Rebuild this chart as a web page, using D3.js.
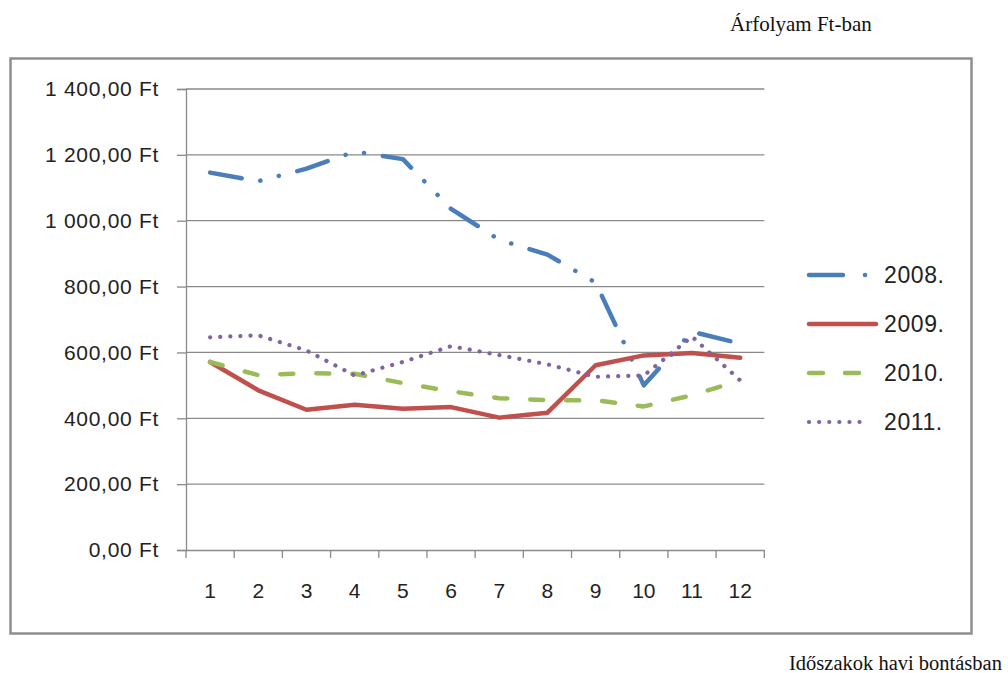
<!DOCTYPE html>
<html>
<head>
<meta charset="utf-8">
<script src="https://cdn.jsdelivr.net/npm/d3@7"></script>
<style>
    body { margin: 0; background: #fff; }
    svg { display: block; }
</style>
</head>
<body>
<div id="chart"></div>
<script>
// adatok
const months = [1, 2, 3, 4, 5, 6, 7, 8, 9, 10, 11, 12];
const y2008 = [1146, 1120, 1158, 1210, 1187, 1036, 942, 897, 812, 500, 663, 627];
const y2009 = [571, 485, 426, 441, 429, 434, 402, 417, 561, 591, 598, 584];
const y2010 = [571, 531, 537, 535, 507, 482, 461, 455, 455, 436, 470, 515];
const y2011 = [646, 652, 606, 530, 571, 619, 592, 564, 526, 530, 648, 515];
const seriesNames = ['2008.', '2009.', '2010.', '2011.'];
const yTicks = [0, 200, 400, 600, 800, 1000, 1200, 1400];

const W = 1008, H = 673;
const svg = d3.select('#chart').append('svg')
    .attr('width', W)
    .attr('height', H);

// külső keret
svg.append('rect')
    .attr('x', 10.5).attr('y', 58.5)
    .attr('width', 961).attr('height', 575)
    .attr('fill', '#fff')
    .attr('stroke', '#8e8e8e')
    .attr('stroke-width', 2.5);

const x = d3.scaleBand().domain(months).range([186, 764.3]);
const y = d3.scaleLinear().domain([0, 1400]).range([550, 89]);

const fmt = v => {
    const s = d3.format(',.2f')(v).replace(/,/g, ' ').replace('.', ',');
    return s + ' Ft';
};

const labelFont = '"Liberation Sans", Arial, sans-serif';

// rácsvonalak
svg.append('g')
    .selectAll('line')
    .data(yTicks.filter(d => d > 0))
    .enter().append('line')
    .attr('x1', 186).attr('x2', 764.3)
    .attr('y1', d => y(d)).attr('y2', d => y(d))
    .attr('stroke', '#8a8a8a')
    .attr('stroke-width', 1.3);

// y tengely
const yAxis = svg.append('g')
    .attr('transform', 'translate(186,0)')
    .call(d3.axisLeft(y).tickValues(yTicks).tickSize(9).tickPadding(18).tickFormat(fmt));
yAxis.select('.domain').attr('stroke', '#8a8a8a').attr('stroke-width', 1.3);
yAxis.selectAll('.tick line').attr('stroke', '#8a8a8a').attr('stroke-width', 1.3);
yAxis.selectAll('.tick text')
    .attr('fill', '#222')
    .style('font-family', labelFont)
    .style('font-size', '21px')
    .style('letter-spacing', '0.7px');

// x tengely
const xAxis = svg.append('g')
    .attr('transform', 'translate(0,550)')
    .call(d3.axisBottom(x).tickSize(0).tickPadding(33));
xAxis.select('.domain').attr('stroke', '#8a8a8a').attr('stroke-width', 1.3);
xAxis.selectAll('.tick text')
    .attr('fill', '#222')
    .style('font-family', labelFont)
    .style('font-size', '21px');
// osztásjelek a sávok határán
xAxis.selectAll('.sep')
    .data(months.concat([13]))
    .enter().append('line')
    .attr('x1', d => d <= 12 ? x(d) : x(12) + x.bandwidth())
    .attr('x2', d => d <= 12 ? x(d) : x(12) + x.bandwidth())
    .attr('y1', 0).attr('y2', 8)
    .attr('stroke', '#8a8a8a')
    .attr('stroke-width', 1.3);

// vonalstílusok
const styles = [
    { color: '#4a7ebb', dash: '32 19 0.1 19 0.1 19', width: 4.5 },
    { color: '#c0504d', dash: null, width: 4.5 },
    { color: '#9bbb59', dash: '13 23', width: 4.5 },
    { color: '#8064a2', dash: '0.1 10', width: 4.2 }
];
const allSeries = [y2008, y2009, y2010, y2011];

const line = d3.line()
    .x((d, i) => x(months[i]) + x.bandwidth() / 2)
    .y(d => y(d));

allSeries.forEach((vals, k) => {
    const st = styles[k];
    svg.append('path')
        .datum(vals)
        .attr('d', line)
        .attr('fill', 'none')
        .attr('stroke', st.color)
        .attr('stroke-width', st.width)
        .attr('stroke-linecap', 'round')
        .attr('stroke-linejoin', 'round')
        .attr('stroke-dasharray', st.dash);
});

// jelmagyarázat
const legendY = [275, 324, 373, 422];
const legendDash = ['34 22 0.1 40', null, '14 22', '0.1 10'];
const legendEnd = [867, 876, 869, 869];
seriesNames.forEach((name, k) => {
    const st = styles[k];
    svg.append('line')
        .attr('x1', 809).attr('x2', legendEnd[k])
        .attr('y1', legendY[k]).attr('y2', legendY[k])
        .attr('stroke', st.color)
        .attr('stroke-width', st.width)
        .attr('stroke-linecap', 'round')
        .attr('stroke-dasharray', legendDash[k]);
    svg.append('text')
        .attr('x', 884).attr('y', legendY[k])
        .attr('dy', '0.36em')
        .attr('fill', '#222')
        .style('font-family', labelFont)
        .style('font-size', '23px')
        .style('letter-spacing', '0.6px')
        .text(name);
});

// feliratok
svg.append('text')
    .attr('x', 730).attr('y', 31)
    .style('font-family', '"Liberation Serif", "Times New Roman", serif')
    .style('font-size', '21px')
    .attr('fill', '#111')
    .text('Árfolyam Ft-ban');

svg.append('text')
    .attr('x', 789).attr('y', 670)
    .style('font-family', '"Liberation Serif", "Times New Roman", serif')
    .style('font-size', '20.5px')
    .attr('fill', '#111')
    .text('Időszakok havi bontásban');
</script>
</body>
</html>
